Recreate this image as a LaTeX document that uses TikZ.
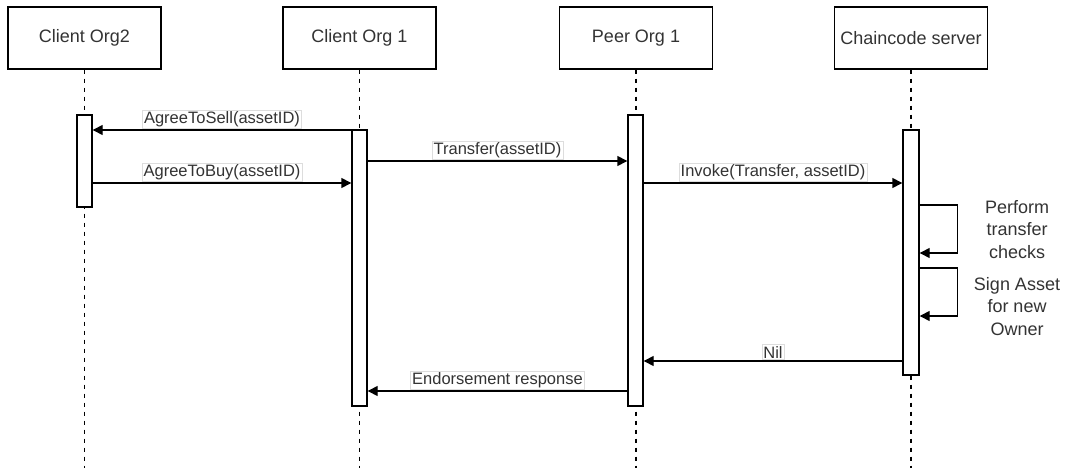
\documentclass[tikz,border=0pt]{standalone}
\usepackage{fontspec}
\setmainfont{Liberation Sans}
\usetikzlibrary{arrows.meta}
\definecolor{ink}{HTML}{333333}
\definecolor{labelrim}{HTML}{DDDDDD}

\begin{document}
\begin{tikzpicture}[x=1pt,y=-1pt,
  actor/.style={draw=black, line width=1.4pt, minimum width=153pt, minimum height=62pt,
    inner sep=0pt, text=ink, font=\fontsize{18}{21}\selectfont},
  lifeline/.style={draw=black, line width=1.2pt, dash pattern=on 4.5pt off 4.5pt},
  bar/.style={draw=black, fill=white, line width=1.4pt, minimum width=15pt, inner sep=0pt},
  msg/.style={draw=black, line width=1.4pt, -{Triangle[length=10pt,width=10pt]}},
  lbl/.style={fill=white, draw=labelrim, line width=0.6pt, inner sep=1.5pt, text=ink,
    font=\fontsize{16.5}{19}\selectfont},
  note/.style={align=center, text=ink, font=\fontsize{18}{22.5}\selectfont}]
\useasboundingbox (0,0) rectangle (1070,468);

% participants
\node[actor] (c2) at (84.5,38) {Client Org2};
\node[actor] (c1) at (359.5,38) {Client Org 1};
\node[actor] (p)  at (636,38)  {Peer Org 1};
\node[actor] (cc) at (911,38)  {Chaincode server};

% row heights of the messages
\coordinate (bottom) at (0,468);
\coordinate (r1) at (0,130);
\coordinate (r2) at (0,183);
\coordinate (r3) at (0,161);
\coordinate (r4) at (0,183);
\coordinate (r5) at (0,205);
\coordinate (r6) at (0,253);
\coordinate (r7) at (0,268);
\coordinate (r8) at (0,316);
\coordinate (r9) at (0,361);
\coordinate (r10) at (0,391);

% lifelines
\foreach \a in {c2,c1,p,cc}
  \draw[lifeline] (\a.south) -- (\a.south |- bottom);

% activation bars
\node[bar, minimum height=92pt]  (c2bar) at (84.5,161) {};
\node[bar, minimum height=276pt] (c1bar) at (359.5,268) {};
\node[bar, minimum height=291pt] (pbar)  at (635.5,260.5) {};
\node[bar, minimum height=245pt, minimum width=16pt] (ccbar) at (911,252.5) {};

% messages
\draw[msg] (c1bar.west |- r1) -- node[lbl, above=1pt] {AgreeToSell(assetID)} (c2bar.east |- r1);
\draw[msg] (c2bar.east |- r2) -- node[lbl, above=1pt] {AgreeToBuy(assetID)} (c1bar.west |- r2);
\draw[msg] (c1bar.east |- r3) -- node[lbl, above=1pt] {Transfer(assetID)} (pbar.west |- r3);
\draw[msg] (pbar.east |- r4) -- node[lbl, above=1pt] {Invoke(Transfer, assetID)} (ccbar.west |- r4);

% self calls on the chaincode server
\draw[msg] (ccbar.east |- r5) -- ++(38,0) |- (ccbar.east |- r6);
\draw[msg] (ccbar.east |- r7) -- ++(38,0) |- (ccbar.east |- r8);
\node[note] (n1) at (1017,229.5) {Perform\\transfer\\checks};
\node[note] (n2) at (1017,306.5) {Sign Asset\\for new\\Owner};

% replies
\draw[msg] (ccbar.west |- r9) -- node[lbl, above=1pt] {Nil} (pbar.east |- r9);
\draw[msg] (pbar.west |- r10) -- node[lbl, above=1pt] {Endorsement response} (c1bar.east |- r10);
\end{tikzpicture}
\end{document}
